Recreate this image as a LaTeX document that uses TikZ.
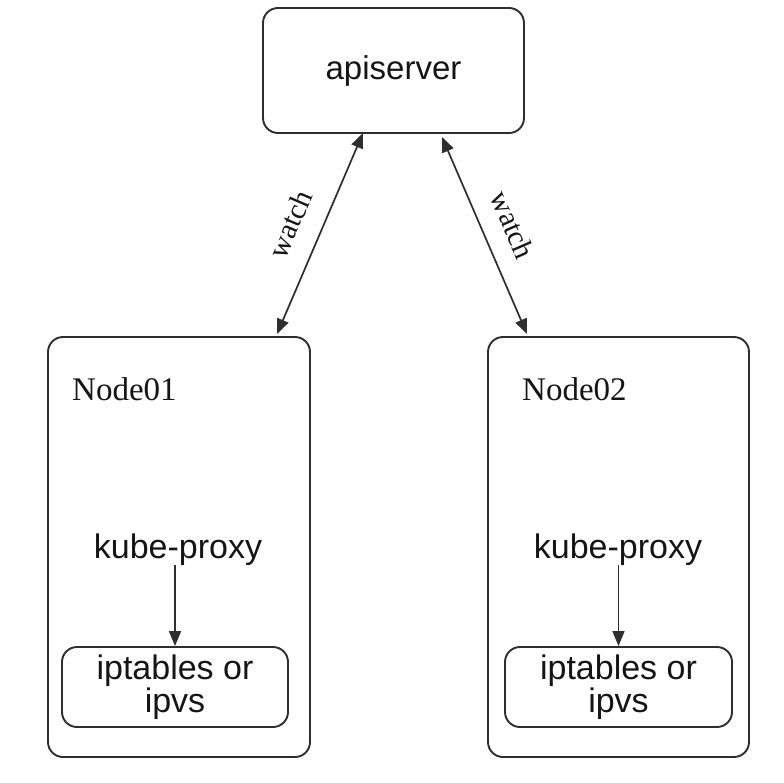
\documentclass[tikz,border=0pt]{standalone}
\usepackage{fontspec}
\setmainfont{Liberation Sans}
\newfontfamily\serifrm{Liberation Serif}
\usetikzlibrary{arrows.meta}
\definecolor{linec}{HTML}{2E2E2E}
\definecolor{textc}{HTML}{151515}
\tikzset{
  rbox/.style={draw=linec, line width=1.9pt, rounded corners=15pt, inner sep=0pt, text=textc},
  sanslbl/.style={inner sep=0pt, text=textc, font=\fontsize{34}{33}\selectfont},
  seriflbl/.style={inner sep=0pt, text=textc, font=\serifrm\fontsize{33}{36}\selectfont},
  watchlbl/.style={inner sep=0pt, text=textc, font=\serifrm\fontsize{29.5}{30}\selectfont},
  conn/.style={draw=linec, line width=1.7pt, -{Triangle[length=15pt,width=12pt]}},
  biconn/.style={draw=linec, line width=1.7pt, {Triangle[length=15pt,width=12pt]}-{Triangle[length=15pt,width=12pt]}}
}
\begin{document}
\begin{tikzpicture}[x=1pt,y=-1pt]
\useasboundingbox[fill=white] (0,0) rectangle (784,782);
% apiserver
\node[rbox, minimum width=261pt, minimum height=125pt, font=\fontsize{33}{36}\selectfont] (api) at (393.5,70.5) {apiserver};
% node boxes
\node[rbox, minimum width=262pt, minimum height=420pt] (n1) at (179,547) {};
\node[rbox, minimum width=261pt, minimum height=420pt] (n2) at (618.5,547) {};
% titles
\node[seriflbl, anchor=base west] (t1) at (72,400) {Node01};
\node[seriflbl, anchor=base west] (t2) at (522,400) {Node02};
% kube-proxy
\node[sanslbl, anchor=base] (kp1) at (178,558) {kube-proxy};
\node[sanslbl, anchor=base] (kp2) at (618,558) {kube-proxy};
% inner boxes
\node[rbox, minimum width=226pt, minimum height=80pt, align=center, font=\fontsize{34}{33}\selectfont] (ip1) at (175,687) {iptables or\\ipvs};
\node[rbox, minimum width=227pt, minimum height=80pt, align=center, font=\fontsize{34}{33}\selectfont] (ip2) at (618.5,687) {iptables or\\ipvs};
% inner arrows
\draw[conn] (ip1.north |- kp1.south) -- (ip1.north);
\draw[conn] (ip2.north |- kp2.south) -- (ip2.north);
% watch arrows
\coordinate (a1) at (363,133);
\coordinate (b1) at (277,334);
\coordinate (a2) at (442,137);
\coordinate (b2) at (527,334);
\draw[biconn] (a1) -- (b1);
\draw[biconn] (a2) -- (b2);
\node[watchlbl, rotate=66.7] (w1) at (290,224) {watch};
\node[watchlbl, rotate=-66.4] (w2) at (513,225) {watch};
\end{tikzpicture}
\end{document}
